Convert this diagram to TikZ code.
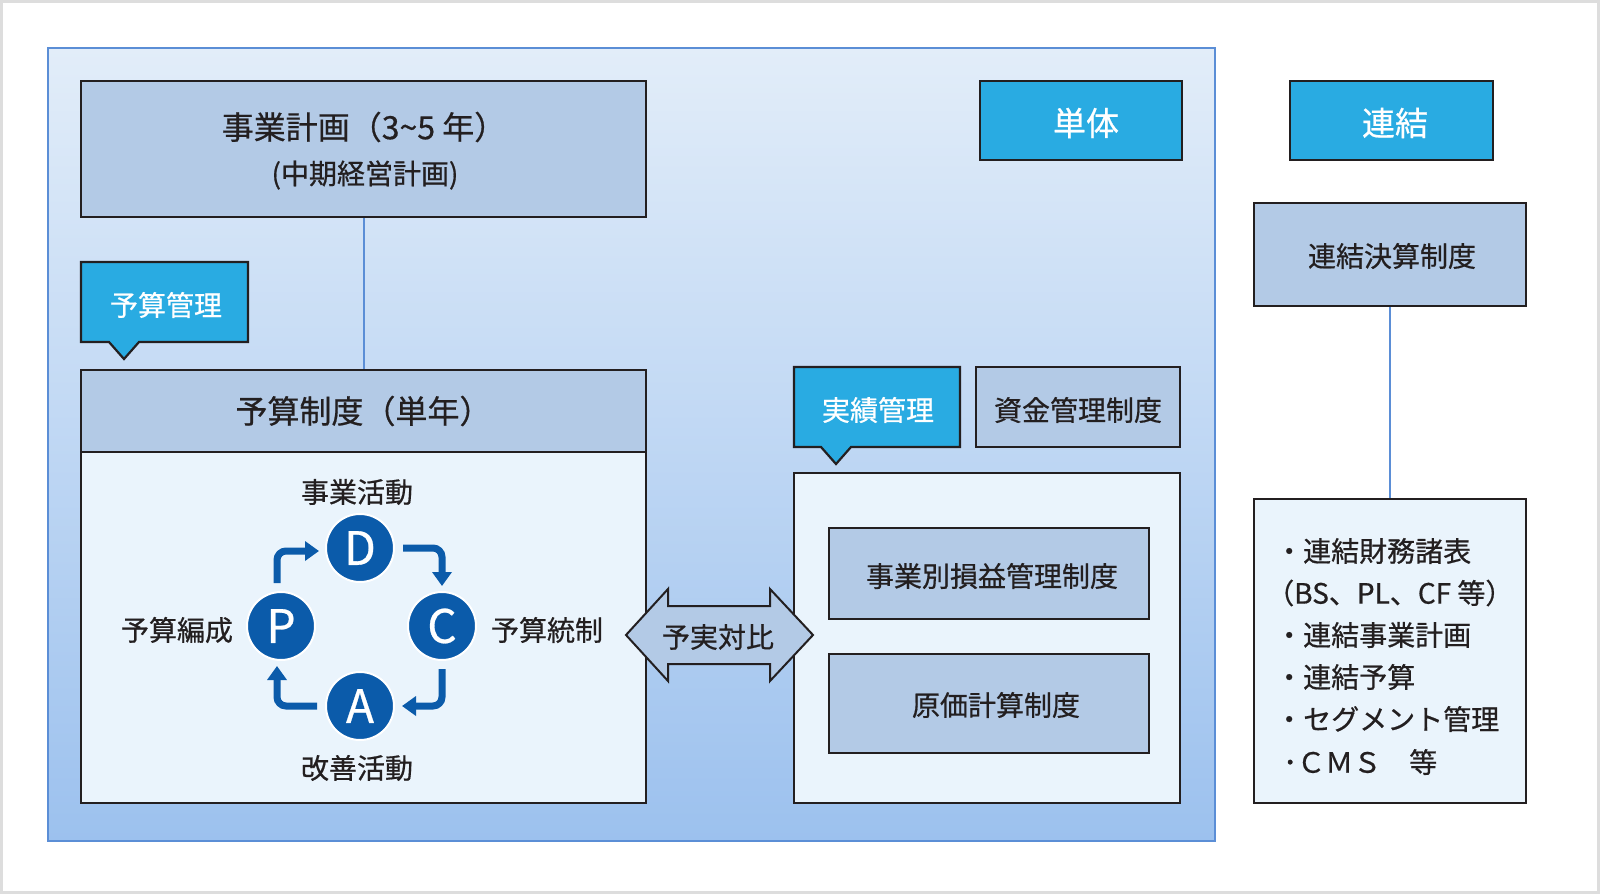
\documentclass[tikz,border=0pt]{standalone}
\usepackage{fontspec}
\setmainfont{Noto Sans CJK JP}[FakeBold=0.6]
\usetikzlibrary{arrows.meta,calc}
\definecolor{panelT}{HTML}{E2EDF9}
\definecolor{panelB}{HTML}{9CC1EE}
\definecolor{panelLine}{HTML}{5B8ED6}
\definecolor{hdrFill}{HTML}{B3CAE6}
\definecolor{wboxFill}{HTML}{EAF4FC}
\definecolor{cyanFill}{HTML}{29ABE2}
\definecolor{ink}{HTML}{231F20}
\definecolor{pdcaBlue}{HTML}{0B5BAA}
\definecolor{frameGray}{HTML}{DDDDDD}
\newcommand\myfs[1]{\fontsize{#1pt}{#1pt}\selectfont}
\tikzset{
  boxbase/.style={draw=ink, line width=2.2pt, inner sep=0pt, align=center, text=ink},
  hdrbox/.style={boxbase, fill=hdrFill, font=\myfs{28}},
  whitebox/.style={boxbase, fill=wboxFill},
  cyanbox/.style={boxbase, fill=cyanFill},
  calloutshape/.style={draw=ink, line width=2.2pt, fill=cyanFill},
  calltext/.style={text=white, font=\myfs{28}, inner sep=0pt},
  plaintext/.style={text=ink, font=\myfs{28}, inner sep=0pt},
  bigtext/.style={text=ink, font=\myfs{32}, inner sep=0pt},
  conn/.style={draw=panelLine, line width=2pt},
  pdcanode/.style={circle, fill=pdcaBlue, draw=white, line width=2pt, minimum size=68pt, inner sep=0pt, text=white, font=\myfs{46}},
  cycarrow/.style={draw=pdcaBlue, line width=7pt, rounded corners=9pt, -{Triangle[length=14pt,width=19pt]}},
  dblarrow/.style={draw=ink, line width=2pt, fill=hdrFill, line join=miter},
}
\begin{document}
\begin{tikzpicture}[x=1pt,y=-1pt]
\useasboundingbox (0,0) rectangle (1600,894);
\fill[white] (0,0) rectangle (1600,894);
\draw[frameGray, line width=3pt] (1.5,1.5) rectangle (1598.5,892.5);
% panel
\shade[top color=panelT, bottom color=panelB] (48,48) rectangle (1215,841);
\draw[panelLine, line width=2.5pt] (48,48) rectangle (1215,841);

% business plan
\node[hdrbox, minimum width=565pt, minimum height=136pt] (jk) at (363.5,149) {};
\node[bigtext] (jk1) at (364,127) {事業計画（3\string~5 年）};
\node[plaintext] (jk2) at (365,175) {(中期経営計画)};

% budget callout
\draw[calloutshape] (81,262) -- (248,262) -- (248,342) -- (139,342) -- (124,359) -- (109,342) -- (81,342) -- cycle;
\node[calltext] (ybk) at (166,305) {予算管理};

% budget system
\node[whitebox, minimum width=565pt, minimum height=433pt] (ysbox) at (363.5,586.5) {};
\node[hdrbox, font=\myfs{32}, minimum width=565pt, minimum height=82pt] (ys) at (363.5,411) {予算制度（単年）};
\draw[conn] (jk.south) -- (ys.north);

% PDCA
\node[pdcanode] (D) at (360,548) {D};
\node[pdcanode] (P) at (281,626) {P};
\node[pdcanode] (C) at (442,626) {C};
\node[pdcanode] (A) at (360,706) {A};
\draw[cycarrow] ([xshift=-4pt,yshift=8pt]P.north) |- ([xshift=-6pt,yshift=-3pt]D.west);
\draw[cycarrow] ([xshift=8pt]D.east) -| ([yshift=5pt]C.north);
\draw[cycarrow] ([yshift=-8pt]C.south) |- ([xshift=7pt]A.east);
\draw[cycarrow] ([xshift=-8pt]A.west) -| ([xshift=-4pt,yshift=-5pt]P.south);
\node[plaintext] (lD) at (357,492) {事業活動};
\node[plaintext] (lA) at (357,768) {改善活動};
\node[plaintext] (lP) at (177,630) {予算編成};
\node[plaintext] (lC) at (547,630) {予算統制};

% single / consolidated
\node[cyanbox, minimum width=202pt, minimum height=79pt] (tantai) at (1081,120.5) {};
\node[calltext, font=\myfs{33}] (tantaiT) at (1086,123) {単体};
\node[cyanbox, minimum width=203pt, minimum height=79pt] (renketsu) at (1391.5,120.5) {};
\node[calltext, font=\myfs{33}] (renketsuT) at (1395,123) {連結};

% results management callout
\draw[calloutshape] (794,367) -- (960,367) -- (960,447) -- (851,447) -- (836,464) -- (821,447) -- (794,447) -- cycle;
\node[calltext] (jsk) at (878,410) {実績管理};
\node[hdrbox, minimum width=204pt, minimum height=80pt] (shikin) at (1078,407) {};
\node[plaintext] (shikinT) at (1078,410) {資金管理制度};

% right white box
\node[whitebox, minimum width=386pt, minimum height=330pt] (rbox) at (987,638) {};
\node[hdrbox, minimum width=320pt, minimum height=91pt] (jbs) at (989,573.5) {};
\node[plaintext] (jbsT) at (992,576) {事業別損益管理制度};
\node[hdrbox, minimum width=320pt, minimum height=99pt] (genka) at (989,703.5) {};
\node[plaintext] (genkaT) at (996,705) {原価計算制度};

% double arrow
\draw[dblarrow] (626,635) -- (668,589) -- (668,606) -- (770,606) -- (770,589) -- (813,635) -- (770,681) -- (770,664) -- (668,664) -- (668,681) -- cycle;
\node[plaintext] (yjt) at (718,637) {予実対比};

% consolidated
\node[hdrbox, minimum width=272pt, minimum height=103pt] (rkk) at (1390,254.5) {};
\node[plaintext] (rkkT) at (1392,256) {連結決算制度};
\node[whitebox, minimum width=272pt, minimum height=304pt] (lst) at (1390,651) {};
\draw[conn] (rkk.south) -- (lst.north);
\node[plaintext, anchor=west] (l1) at (1275,551) {・連結財務諸表};
\node[plaintext, anchor=west] (l2) at (1266,593) {（BS、PL、CF 等）};
\node[plaintext, anchor=west] (l3) at (1275,635) {・連結事業計画};
\node[plaintext, anchor=west] (l4) at (1275,677) {・連結予算};
\node[plaintext, anchor=west] (l5) at (1275,719) {・セグメント管理};
\node[plaintext, anchor=west] (l6) at (1283,762) {･ＣＭＳ　等};
\end{tikzpicture}
\end{document}
